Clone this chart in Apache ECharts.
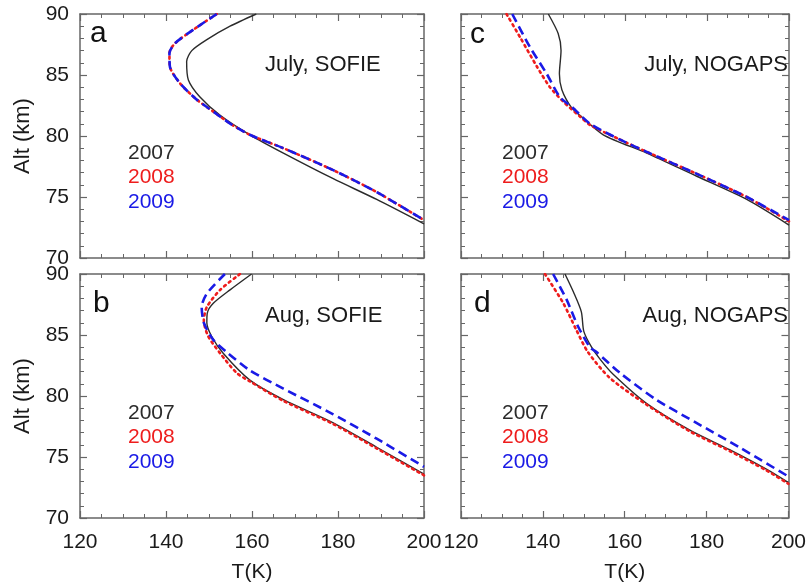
<!DOCTYPE html>
<html lang="en">
<head>
<meta charset="UTF-8">
<title>Temperature profiles</title>
<style>
  html, body { margin: 0; padding: 0; background: #fff; }
  #main { width: 809px; height: 586px; }
</style>
</head>
<body>
<div id="main"></div>
<script src="https://cdn.jsdelivr.net/npm/echarts@6/dist/echarts.min.js"></script>
<script>
// years and their colours
var years = ['2007', '2008', '2009'];
var yearColors = ['#2b2b2b', '#ee1c1c', '#1a1ae6'];

// panels: a, b (left column), c, d (right column)
var panelLetters = ['a', 'b', 'c', 'd'];
var panelTitles = ['July, SOFIE', 'Aug, SOFIE', 'July, NOGAPS', 'Aug, NOGAPS'];

// [T(K), Alt(km)]
var julySofie2007 = [[161,90],[154.9,89.0],[149.5,87.9],[146,87.0],[144.8,86.1],[145.2,84.6],[147.9,83.2],[152.6,81.7],[159.5,80.1],[167.3,78.6],[178.9,76.5],[189,74.8],[200,72.8]];
var julySofie2008 = [[151.8,90],[146.3,88.7],[142.1,87.6],[140.8,86.8],[140.9,85.7],[143.3,84.3],[147.1,83.0],[151,82.0],[155,81.0],[159.5,80.1],[167.3,79.0],[178.9,77.2],[189,75.4],[200,73.1]];
var julySofie2009 = [[151.8,90],[146.3,88.7],[142.1,87.6],[140.8,86.8],[140.9,85.7],[143.3,84.3],[147.1,83.0],[151,82.0],[155,81.0],[159.5,80.1],[167.3,79.0],[178.9,77.2],[189,75.4],[200,73.1]];

var augSofie2007 = [[159.9,90],[154.9,88.7],[151,87.6],[149.6,86.8],[149.5,86.0],[150.6,84.9],[153.3,83.5],[159.5,81.3],[167.3,79.7],[178.9,77.8],[189,75.8],[200,73.6]];
var augSofie2008 = [[157.2,90],[152.6,88.7],[149.5,87.3],[148.8,86.2],[149.8,84.9],[152.6,83.5],[156.4,81.9],[159.5,81.2],[167.3,79.6],[178.9,77.7],[189,75.7],[200,73.5]];
var augSofie2009 = [[153.7,90],[149.5,88.4],[148.3,87.3],[148.8,86.0],[151,84.6],[154.1,83.6],[159.5,82.1],[167.3,80.6],[178.9,78.5],[189,76.5],[200,74.2]];

var julyNogaps2007 = [[141.3,90],[143.7,88.4],[144.4,87.0],[144.0,85.1],[144.6,83.8],[147,82.3],[149,81.7],[154.7,80.1],[165.3,78.6],[177.5,76.7],[189.7,74.8],[200,72.7]];
var julyNogaps2008 = [[131.1,90],[134.4,88.1],[138.5,85.7],[141.7,84.0],[145,82.8],[149,81.6],[151.5,80.9],[158.8,79.7],[165.3,78.7],[177.5,76.9],[189.7,75.0],[200,73.0]];
var julyNogaps2009 = [[132.5,90],[136.8,87.3],[140.9,85.1],[144.1,83.2],[147,82.4],[151.5,81.0],[158.8,79.7],[165.3,78.7],[177.5,76.9],[189.7,75.0],[200,73.1]];

var augNogaps2007 = [[145.4,90],[147.5,88.5],[149.4,86.9],[150,85.3],[151.9,84.0],[154,83.0],[157.1,81.8],[165.3,79.4],[175.9,77.2],[185.6,75.6],[194.6,74.0],[200,72.9]];
var augNogaps2008 = [[140.5,90],[145,87.6],[148.2,85.4],[151,83.6],[156.3,81.5],[165.3,79.3],[175.9,77.1],[185.6,75.5],[194.6,73.9],[200,72.8]];
var augNogaps2009 = [[142.5,90],[145.8,87.9],[148.6,85.7],[151.5,84.0],[153.1,83.6],[158.8,81.9],[167.7,79.7],[177.5,77.8],[188,75.8],[200,73.4]];

var panelData = [
  [julySofie2007, julySofie2008, julySofie2009],
  [augSofie2007, augSofie2008, augSofie2009],
  [julyNogaps2007, julyNogaps2008, julyNogaps2009],
  [augNogaps2007, augNogaps2008, augNogaps2009]
];

// axis ranges
var tMin = 120, tMax = 200, tStep = 20;
var altMin = 70, altMax = 90, altStep = 5;

var FONT = '"Liberation Sans", Arial, sans-serif';
var frameColor = '#666';

var grids = [
  { left: 80, top: 14, width: 344, height: 244 },
  { left: 80, top: 274, width: 344, height: 244 },
  { left: 461, top: 14, width: 328, height: 244 },
  { left: 461, top: 274, width: 328, height: 244 }
];

var xAxes = [], yAxes = [], series = [], graphics = [];

function tickCfg(len) {
  return { show: true, inside: true, length: len, lineStyle: { color: frameColor, width: 1.2 } };
}

grids.forEach(function (g, i) {
  var isBottom = (i === 1 || i === 3);
  var isLeft = (i === 0 || i === 1);
  ['bottom', 'top'].forEach(function (pos) {
    var main = pos === 'bottom';
    xAxes.push({
      type: 'value', gridIndex: i, position: pos,
      min: tMin, max: tMax, interval: tStep,
      axisLine: { show: true, onZero: false, lineStyle: { color: frameColor, width: 1.5 } },
      axisTick: tickCfg(7),
      minorTick: { show: true, splitNumber: 4, length: 4, lineStyle: { color: frameColor, width: 1 } },
      splitLine: { show: false },
      axisLabel: { show: main && isBottom, fontSize: 21, color: '#1a1a1a', fontFamily: FONT, margin: 14 },
      name: main && isBottom ? 'T(K)' : '',
      nameLocation: 'middle', nameGap: 44,
      nameTextStyle: { fontSize: 21, color: '#1a1a1a', fontFamily: FONT }
    });
  });
  ['left', 'right'].forEach(function (pos) {
    var main = pos === 'left';
    yAxes.push({
      type: 'value', gridIndex: i, position: pos,
      min: altMin, max: altMax, interval: altStep,
      axisLine: { show: true, onZero: false, lineStyle: { color: frameColor, width: 1.5 } },
      axisTick: tickCfg(7),
      minorTick: { show: true, splitNumber: 5, length: 4, lineStyle: { color: frameColor, width: 1 } },
      splitLine: { show: false },
      axisLabel: { show: main && isLeft, fontSize: 21, color: '#1a1a1a', fontFamily: FONT, margin: 11 },
      name: main && isLeft ? 'Alt (km)' : '',
      nameLocation: 'middle', nameGap: 46,
      nameTextStyle: { fontSize: 22, color: '#1a1a1a', fontFamily: FONT }
    });
  });

  panelData[i].forEach(function (d, k) {
    var ls;
    if (k === 0) ls = { color: yearColors[0], width: 1.4, type: 'solid' };
    else if (k === 1) ls = { color: yearColors[1], width: 2.6, type: [2, 4], cap: 'round' };
    else ls = { color: yearColors[2], width: 2.6, type: [9, 5] };
    series.push({
      name: years[k] + ' ' + panelLetters[i],
      type: 'line',
      xAxisIndex: 2 * i, yAxisIndex: 2 * i,
      data: d,
      smooth: 0.25,
      showSymbol: false,
      symbol: 'none',
      lineStyle: ls,
      z: 2 + k,
      animation: false
    });
  });
});

// panel letters, titles and year keys
var letterPos = [[90, 34], [93, 304], [470, 35], [474, 304]];
var titlePos = [[265, 65, 'left'], [265, 316, 'left'], [788, 65, 'right'], [788, 316, 'right']];
var keyPos = [[128, 153], [128, 413], [502, 153], [502, 413]];
var keyStep = 24.5;

grids.forEach(function (g, i) {
  graphics.push({
    type: 'text', x: letterPos[i][0], y: letterPos[i][1],
    style: { text: panelLetters[i], font: '30px ' + FONT, fill: '#111', verticalAlign: 'middle' }
  });
  graphics.push({
    type: 'text', x: titlePos[i][0], y: titlePos[i][1],
    style: { text: panelTitles[i], font: '22px ' + FONT, fill: '#1a1a1a', align: titlePos[i][2], verticalAlign: 'middle' }
  });
  years.forEach(function (y, k) {
    graphics.push({
      type: 'text', x: keyPos[i][0], y: keyPos[i][1] + k * keyStep,
      style: { text: y, font: '21px ' + FONT, fill: yearColors[k], verticalAlign: 'middle' }
    });
  });
});

var chart = echarts.init(document.getElementById('main'));
chart.setOption({
  backgroundColor: '#fff',
  animation: false,
  grid: grids,
  xAxis: xAxes,
  yAxis: yAxes,
  series: series,
  graphic: graphics
});
</script>
</body>
</html>
